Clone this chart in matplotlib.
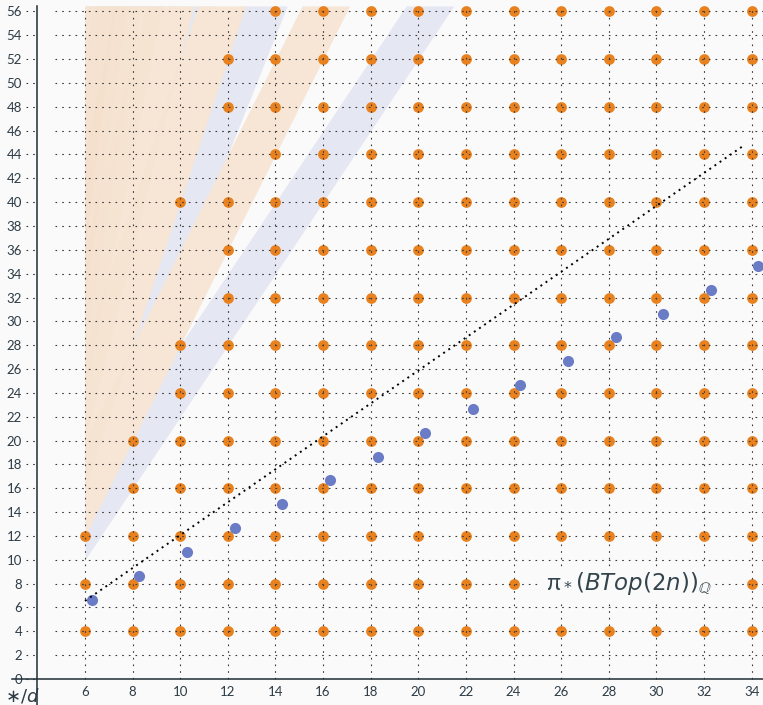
import numpy as np
import matplotlib
matplotlib.use("Agg")
import matplotlib.pyplot as plt
from matplotlib import transforms

plt.rcParams['font.family'] = ['Lato', 'DejaVu Sans']

# ---------------- data ----------------
dims = [6, 8, 10, 12, 14, 16, 18, 20, 22, 24, 26, 28, 30, 32, 34]
col_6 = [4, 8, 12]
col_8 = [4, 8, 12, 16, 20]
col_10 = [4, 8, 12, 16, 20, 24, 28, 40]
col_12 = [4, 8, 12, 16, 20, 24, 28, 32, 36, 40, 48, 52]
col_full = [4, 8, 12, 16, 20, 24, 28, 32, 36, 40, 44, 48, 52, 56]
orange_columns = [col_6, col_8, col_10, col_12] + [col_full] * 11

blue_d = [6, 8, 10, 12, 14, 16, 18, 20, 22, 24, 26, 28, 30, 32, 34]
blue_deg = [6, 8, 10, 12, 14, 16, 18, 20, 22, 24, 26, 28, 30, 32, 34]

line_d = [6.0, 33.7]
line_deg = [6.55, 44.8]

# shaded bands: slope, lower/upper degree at d = 6, kind
band_slope = [3, 4, 5, 6, 7, 8, 9, 10, 11, 12, 13, 14, 15, 16]
band_lo = [10, 12, 14, 16, 18, 20, 22, 24, 26, 28, 30, 32, 34, 36]
band_hi = [16, 20, 24, 28, 32, 36, 40, 44, 48, 52, 56, 60, 64, 68]
band_kind = ['blue', 'orange'] * 7

xticks = list(range(6, 35, 2))
yticks = list(range(0, 57, 2))

# ---------------- style ----------------
ORANGE = '#e8811e'
BLUE = '#6b7cc7'
BAND_BLUE = '#e5e7f2'
BAND_ORANGE = '#f8e8d9'
TEXT = '#2d3b45'
BG = '#fafafa'
TOP = 56.46

fig = plt.figure(figsize=(7.63, 7.05), dpi=100, facecolor=BG)
ax = fig.add_axes([0, 0, 1, 1], facecolor=BG)
ax.set_xlim(2.43, 34.475)
ax.set_ylim(-2.18, 56.96)

# bands
xs = np.linspace(6, 34.5, 3000)
def band_edges(s, lo, hi):
    ylo = lo + s * (xs - 6)
    yhi = hi + s * (xs - 6)
    return np.minimum(ylo, TOP), np.minimum(yhi, TOP)

for s, lo, hi, k in zip(band_slope, band_lo, band_hi, band_kind):
    if k == 'blue':
        a, b = band_edges(s, lo, hi)
        ax.fill_between(xs, a, b, color=BAND_BLUE, lw=0, zorder=1)
for s, lo, hi, k in zip(band_slope, band_lo, band_hi, band_kind):
    if k == 'orange':
        a, b = band_edges(s, lo, hi)
        ax.fill_between(xs, a, b, color=BAND_ORANGE, lw=0, zorder=1.1)
for s, lo, hi, k in zip(band_slope, band_lo, band_hi, band_kind):
    if k == 'orange':
        a, b = band_edges(s, lo, hi)
        ax.fill_between(xs, a, b, color=ORANGE, alpha=0.012, lw=0, zorder=1.2)

# orange dots
for d, col in zip(dims, orange_columns):
    ax.scatter([d] * len(col), col, s=60, color=ORANGE, lw=0, zorder=2)

# grid
dot = (0, (1.5, 4.5))
ax.hlines(yticks[1:], 0.072, 1, transform=ax.get_yaxis_transform(),
          colors='#3a3a3a', linestyles=[dot], lw=0.8, zorder=3)
ax.hlines(yticks, 0.034, 0.046, transform=ax.get_yaxis_transform(),
          colors='#3a3a3a', linestyles=[dot], lw=0.8, zorder=3)
ax.vlines(xticks, 0, TOP, colors='#3a3a3a', linestyles=[dot], lw=0.8, zorder=3)

# blue dots (drawn slightly offset from their lattice point)
off = transforms.offset_copy(ax.transData, fig=fig, x=6.8, y=7.8, units='dots')
ax.scatter(blue_d, blue_deg, s=64, color=BLUE, lw=0, zorder=4, transform=off)

# dotted line
ax.plot(line_d, line_deg, color='black', lw=1.4, linestyle=(0, (1, 2.2)), zorder=5)

# axes
for sp in ['top', 'right']:
    ax.spines[sp].set_visible(False)
ax.spines['left'].set_position(('data', 4))
ax.spines['bottom'].set_position(('data', 0))
ax.spines['left'].set_bounds(-2.18, TOP)
ax.spines['bottom'].set_bounds(2.93, 34.475)
for sp in ['left', 'bottom']:
    ax.spines[sp].set_color('#1f2d36')
    ax.spines[sp].set_linewidth(1.1)
    ax.spines[sp].set_zorder(6)

ax.set_xticks(xticks)
ax.set_yticks(yticks)
ax.tick_params(axis='y', length=0, pad=11, labelsize=9.5, labelcolor=TEXT)
ax.tick_params(axis='x', length=0, pad=5, labelsize=9.5, labelcolor=TEXT)

ax.text(25.35, 8.0, r'π$_*(BTop(2n))_{\mathbb{Q}}$', fontsize=16.5,
        color='#33444d', va='center', ha='left', zorder=7,
        bbox=dict(boxstyle='square,pad=0.15', fc=BG, ec='none'))
fig.text(0.006, 0.0, r'$\ast/d$', fontsize=13, color=TEXT, va='bottom', ha='left')

fig.savefig('out.png', dpi=100, facecolor=BG)
